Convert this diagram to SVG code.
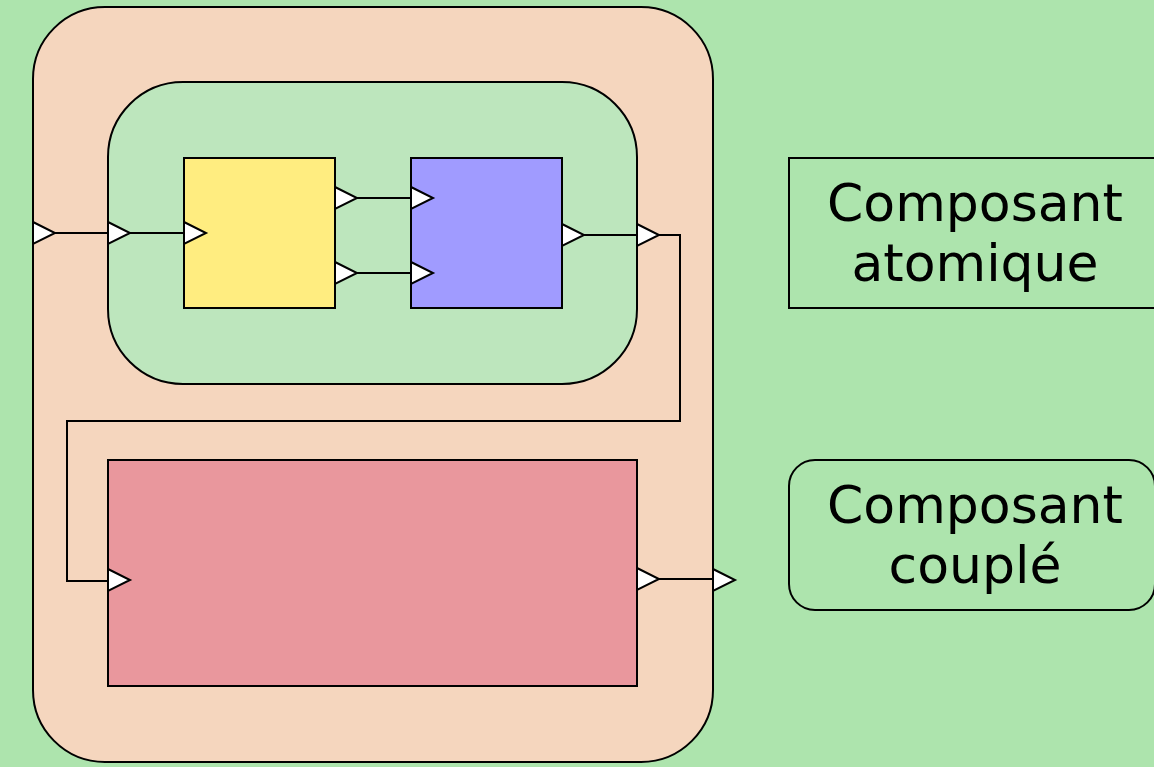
<svg xmlns="http://www.w3.org/2000/svg" width="1154" height="767" viewBox="0 0 1154 767">
<style>
.s{stroke:#000;stroke-width:2}
.port{fill:#fff;stroke:#000;stroke-width:2;stroke-linejoin:miter}
.wire{fill:none;stroke:#000;stroke-width:2}
.lbl{font-family:"DejaVu Sans",sans-serif;font-size:52px;fill:#000;text-anchor:middle}
</style>
<defs>
<polygon id="port" points="0,-11 22,0 0,11" class="port"/>
</defs>
<rect x="0" y="0" width="1154" height="767" fill="#ade4ad"/>
<g id="coupled-outer">
<rect x="33" y="7" width="680" height="755" rx="72" ry="72" fill="#f5d6be" class="s"/>
</g>
<g id="coupled-inner">
<rect x="108" y="82" width="529" height="302" rx="75" ry="75" fill="#bde6bd" class="s"/>
</g>
<g id="atomic-yellow">
<rect x="184" y="158" width="151" height="150" fill="#ffed80" class="s"/>
</g>
<g id="atomic-blue">
<rect x="411" y="158" width="151" height="150" fill="#a09bff" class="s"/>
</g>
<g id="atomic-red">
<rect x="108" y="460" width="529" height="226" fill="#e9979d" class="s"/>
</g>
<g id="connectors">
<path class="wire" d="M55,233 H108"/>
<path class="wire" d="M130,233 H184"/>
<path class="wire" d="M357,198 H411"/>
<path class="wire" d="M357,273 H411"/>
<path class="wire" d="M584,235 H637"/>
<path class="wire" d="M659,235 H680 V421 H67 V581 H108"/>
<path class="wire" d="M659,579 H713"/>
</g>
<g id="ports">
<use href="#port" x="33" y="233"/>
<use href="#port" x="108" y="233"/>
<use href="#port" x="184" y="233"/>
<use href="#port" x="335" y="198"/>
<use href="#port" x="335" y="273"/>
<use href="#port" x="411" y="198"/>
<use href="#port" x="411" y="273"/>
<use href="#port" x="562" y="235"/>
<use href="#port" x="637" y="235"/>
<use href="#port" x="108" y="580"/>
<use href="#port" x="637" y="579"/>
<use href="#port" x="713" y="580"/>
</g>
<g id="legend-atomic">
<rect x="789" y="158" width="367" height="150" fill="none" class="s"/>
<text class="lbl" x="975" y="221">Composant</text>
<text class="lbl" x="975" y="281">atomique</text>
</g>
<g id="legend-coupled">
<rect x="789" y="460" width="366" height="150" rx="26" ry="26" fill="none" class="s"/>
<text class="lbl" x="975" y="523">Composant</text>
<text class="lbl" x="975" y="583">couplé</text>
</g>
</svg>
